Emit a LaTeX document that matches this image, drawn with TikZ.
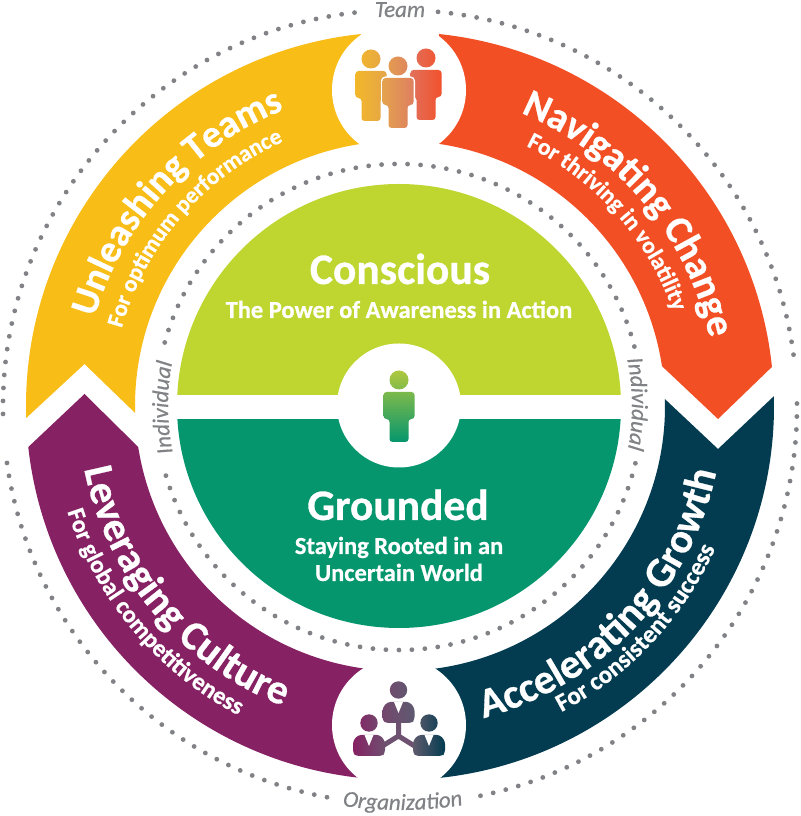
\documentclass[tikz,border=0pt]{standalone}
\usepackage{fontspec}
\setmainfont{Carlito}[BoldFeatures={FakeBold=0.7},ItalicFeatures={FakeBold=0.5}]
\usetikzlibrary{decorations.text,calc}
\definecolor{cyellow}{HTML}{F8BD16}
\definecolor{corange}{HTML}{F34F25}
\definecolor{cpurple}{HTML}{862163}
\definecolor{cteal}{HTML}{033C50}
\definecolor{clime}{HTML}{BED62F}
\definecolor{cgreen}{HTML}{05966D}
\definecolor{cgray}{HTML}{808285}
\newcommand\fring[1]{\color{white}\fontsize{#1}{#1}\selectfont\bfseries}
\def\flab{\color{cgray}\fontsize{23}{24}\selectfont\itshape}
\newcommand\ringtext[5]{% format, radius, start, end, text
  \path[decorate,decoration={text along path,text align={left},text={|#1|#5}}]
    (400,410) ++(#3:#2) arc[start angle=#3,delta angle={(#4-(#3))*1.2},radius=#2];}
\def\personpath{(0,0) circle[radius=9.5]
  (-15.5,-12) -- (15.5,-12) -- (15.5,-39) -- (9.5,-39) -- (9.5,-62) -- (-9.5,-62) -- (-9.5,-39) -- (-15.5,-39) -- cycle}
\def\bosspath{(0,0) circle[radius=8.7]
  (-11,-12) -- (11,-12) -- (16,-18) -- (16,-30) -- (13,-33) -- (-13,-33) -- (-16,-30) -- (-16,-18) -- cycle}
\tikzset{
  x=1pt,y=1pt,
  dotring/.style={cgray,line width=4.8pt,line cap=round,dash pattern=on 0pt off 13pt},
  disk/.style={fill=white,draw=none},
  title/.style={text=white,font=\fontsize{43.5}{44}\selectfont\bfseries,anchor=base,inner sep=0pt},
  subtitle/.style={text=white,font=\fontsize{24.5}{25}\selectfont\bfseries,anchor=base,inner sep=0pt},
  label/.style={text=cgray,font=\fontsize{23}{24}\selectfont\itshape,anchor=base,inner sep=0pt},
  fig/.style={rounded corners=3pt},
  tie/.style={fill=white,draw=none},
}
\begin{document}
\begin{tikzpicture}
\useasboundingbox (0,0) rectangle (800,816);
\fill[white] (0,0) rectangle (800,816);
% dotted rings
\draw[dotring] (400,409) ++(84.5:397) arc[start angle=84.5,end angle=6.2,radius=397];
\draw[dotring] (400,409) ++(0.5:397) arc[start angle=0.5,end angle=-78.6,radius=397];
\draw[dotring] (400,409) ++(259.4:397) arc[start angle=259.4,end angle=186.6,radius=397];
\draw[dotring] (400,409) ++(181:397) arc[start angle=181,end angle=95.5,radius=397];
\draw[dotring] (399,409) ++(164.6:243) arc[start angle=164.6,end angle=14,radius=243];
\draw[dotring] (399,409) ++(-13.4:243) arc[start angle=-13.4,end angle=-165.2,radius=243];
% ring segments
\fill[cyellow] (400,410) ++(181.84:374) arc[start angle=181.84,end angle=96,radius=374]
  -- ($(400,410)+(96:265)$) arc[start angle=96,end angle=181.5,radius=265] -- (84.5,452) -- cycle;
\fill[corange] (400,410) ++(84:374) arc[start angle=84,end angle=6,radius=374]
  -- (718,397) -- ($(400,410)+(8.65:265)$) arc[start angle=8.65,end angle=84,radius=265] -- cycle;
\fill[cteal] (400,410) ++(1.5:374) arc[start angle=1.5,end angle=-85,radius=374]
  -- ($(400,410)+(-85:265)$) arc[start angle=-85,end angle=1.5,radius=265] -- (718,367) -- cycle;
\fill[cpurple] (400,410) ++(186.3:374) arc[start angle=186.3,end angle=265,radius=374]
  -- ($(400,410)+(265:265)$) arc[start angle=265,end angle=188.9,radius=265] -- (84.5,422) -- cycle;
% icon discs in the ring
\node[disk,circle,minimum size=134pt,inner sep=0pt] (teamdisc) at (399,726) {};
\node[disk,circle,minimum size=134pt,inner sep=0pt] (orgdisc) at (399,91) {};
% core
\fill[clime] (177,410) arc[start angle=180,end angle=0,radius=222] -- cycle;
\fill[cgreen] (177,410) arc[start angle=180,end angle=360,radius=222] -- cycle;
\fill[white] (170,397) rectangle (628,421);
\node[disk,circle,minimum size=124pt,inner sep=0pt] (selfdisc) at (399,410.5) {};
% individual icon
\definecolor{pa}{HTML}{AFC83E}
\path[fig,shift={(399,436)},top color=pa,bottom color=cgreen] \personpath;
% team icon
\definecolor{ta}{HTML}{F3B72A}\definecolor{tb}{HTML}{E4A548}
\definecolor{tc}{HTML}{E4A24E}\definecolor{td}{HTML}{DE7F60}
\definecolor{te}{HTML}{E2705A}\definecolor{tf}{HTML}{F2512D}
\path[fig,shift={(371,757)},left color=ta,right color=tb] \personpath;
\path[fig,shift={(426,758)},left color=te,right color=tf] \personpath;
\draw[white,line width=3pt,fig,shift={(398,750)}] \personpath;
\path[fig,shift={(398,750)},left color=tc,right color=td] \personpath;
% organization icon
\definecolor{oa}{HTML}{6E5070}\definecolor{ob}{HTML}{74486E}\definecolor{oc}{HTML}{5E5A70}\definecolor{od}{HTML}{5F5A6C}
\draw[line width=5pt,color=oa,line join=round] (398.5,93) -- (398.5,80) (376,66) -- (398.5,80) -- (421,66);
\path[fig,shift={(398.5,126)},left color=ob,right color=oc] \bosspath;
\path[fig,shift={(369,93)},left color=cpurple,right color=oa] \bosspath;
\path[fig,shift={(429,93)},left color=od,right color=cteal] \bosspath;
\fill[tie] (394,114) -- (403,114) -- (398.5,103) -- cycle;
\fill[tie] (364.5,81) -- (373.5,81) -- (369,70) -- cycle;
\fill[tie] (424.5,81) -- (433.5,81) -- (429,70) -- cycle;
% centre texts
\node[title] (conscious) at (400,532) {Conscious};
\node[subtitle] (power) at (399,498) {The Power of Awareness in Action};
\node[title] (grounded) at (398,296) {Grounded};
\node[subtitle] (staying) at (399,262) {Staying Rooted in an};
\node[subtitle] (uncertain) at (399,235) {Uncertain World};
% ring texts
\ringtext{\fring{38.5}}{318}{163.8}{111.7}{Unleashing Teams}
\ringtext{\fring{23.2}}{289}{164.4}{114}{For op{ti}mum performance}
\ringtext{\fring{39.5}}{317}{67.6}{12.6}{Naviga{ti}ng Change}
\ringtext{\fring{23.5}}{289}{64.1}{18.2}{For thriving in vola{ti}lity}
\ringtext{\fring{41.5}}{322}{191.3}{248.6}{Leveraging Culture}
\ringtext{\fring{24.5}}{349}{197.6}{243}{For global compe{ti}{ti}veness}
\ringtext{\fring{41.8}}{323}{-75}{-11.4}{Accelera{ti}ng Growth}
\ringtext{\fring{25}}{346}{-62.2}{-24}{For consistent success}
% labels
\node[label] (team) at (400,799) {Team};
\ringtext{\flab}{404}{261.8}{278.8}{Organiza{ti}on}
\ringtext{\flab}{232}{191.6}{168}{Individual}
\ringtext{\flab}{232}{11.7}{-12}{Individual}
\end{tikzpicture}
\end{document}
